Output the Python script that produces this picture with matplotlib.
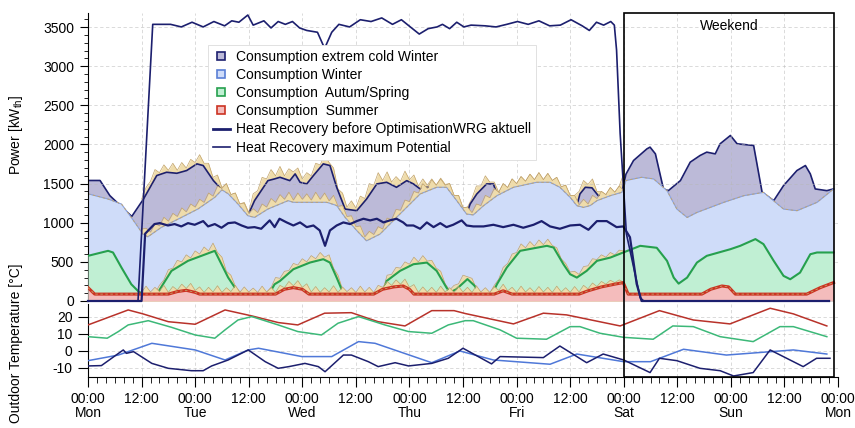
import numpy as np
import matplotlib
matplotlib.use("Agg")
import matplotlib.pyplot as plt
from matplotlib.lines import Line2D
from matplotlib.patches import Rectangle

plt.rcParams['font.family'] = ['Liberation Sans', 'DejaVu Sans']
plt.rcParams['font.size'] = 10
plt.rcParams['mathtext.fontset'] = 'custom'
plt.rcParams['mathtext.rm'] = 'Liberation Sans'
plt.rcParams['axes.unicode_minus'] = False

# ---- consumption curves, (hour of week, kW) ----
EXTREME = [(0, 1540), (2.7, 1540), (4.9, 1346), (9.8, 1080), (12.4, 1300), (15.4, 1603),
           (17.6, 1645), (19.9, 1632), (22.1, 1667), (24.4, 1752), (25.8, 1731), (28.1, 1538),
           (30, 1420), (31.4, 1370), (33.6, 1239), (35.8, 1090), (37.3, 1282), (40.3, 1538),
           (41.8, 1560), (43, 1581), (45.2, 1538), (46.4, 1624), (47.5, 1517), (49, 1496),
           (50.5, 1603), (52.7, 1752), (54.2, 1731), (55.7, 1453), (57.6, 1175), (60.2, 1154),
           (62.4, 1303), (64.7, 1496), (66.9, 1517), (69.1, 1453), (71.4, 1538), (72.9, 1496),
           (74.4, 1432), (75.9, 1453), (78.1, 1453), (80.3, 1453), (82.6, 1282), (84.8, 1111),
           (85.6, 1239), (87.1, 1368), (89.3, 1496), (90.8, 1496), (91.6, 1368), (95.3, 1453),
           (100.5, 1517), (103.5, 1517), (105.7, 1453), (108, 1325), (109.5, 1218), (110.2, 1368),
           (111.4, 1453), (112.9, 1446), (114.3, 1346), (117, 1346), (119.6, 1389), (120.5, 1620),
           (122.2, 1795), (125.2, 1944), (125.9, 1966), (127.1, 1880), (128.9, 1432), (130, 1410),
           (132.7, 1538), (134.9, 1774), (137.1, 1859), (138.6, 1902), (140.5, 1880), (141.6, 2009),
           (143.9, 2115), (145.4, 2009), (149.1, 1987), (151, 1389), (153.6, 1282), (155.8, 1474),
           (158.8, 1667), (160.7, 1731), (161.8, 1624), (162.9, 1432), (165.5, 1410), (167, 1432)]

WINTER = [(0, 1370), (4.5, 1303), (7.5, 1239), (9.7, 1068), (12.3, 855), (13.4, 820),
          (16.4, 940), (20.2, 1047), (24.6, 1175), (28.4, 1325), (30, 1420), (31.4, 1370),
          (33.6, 1239), (35.8, 1090), (37.3, 1068), (40.3, 1175), (44.8, 1282), (46, 1261),
          (53.5, 1261), (55.7, 1220), (57.6, 1068), (60.2, 900), (62.4, 769), (65.4, 855),
          (69.1, 1068), (74.4, 1368), (78.1, 1453), (80.3, 1453), (82.6, 1282), (84.8, 1111),
          (86.3, 1100), (88.6, 1218), (91.6, 1346), (95.3, 1453), (100.5, 1517), (103.5, 1517),
          (105.7, 1453), (108, 1325), (109.5, 1218), (111, 1196), (112.5, 1220), (114, 1282),
          (117, 1346), (119.6, 1389), (120.5, 1540), (124, 1581), (126.7, 1560), (129.7, 1410),
          (131.9, 1175), (134.2, 1068), (136.4, 1132), (142.4, 1261), (146.9, 1346), (151.3, 1389),
          (155.8, 1175), (158.8, 1154), (163.3, 1261), (167, 1432)]

AUTUMN = [(0, 577), (4.5, 641), (5.6, 620), (7.5, 427), (9.7, 214), (11.2, 128), (12.3, 85),
          (15.5, 85), (16.1, 150), (18.7, 385), (22.4, 513), (25.4, 577), (28.4, 641), (29.9, 470),
          (31.4, 299), (32.9, 171), (34, 85), (40.5, 85), (41.8, 214), (43, 256), (46, 406),
          (49.7, 491), (52.7, 534), (54.2, 491), (55.7, 299), (56.8, 150), (57.5, 85), (66, 85),
          (66.9, 256), (69.9, 385), (72.9, 470), (75.9, 491), (78.1, 385), (80.3, 171), (81.1, 110),
          (82.5, 150), (85, 280), (86.5, 200), (88, 85), (90.5, 85), (91.6, 214), (93.8, 427),
          (96.8, 641), (102.8, 705), (104.3, 683), (106.5, 470), (108, 342), (109.5, 299),
          (111.7, 385), (114, 513), (117, 555), (119.9, 620), (123.7, 705), (127.4, 680),
          (129.7, 513), (131.2, 299), (132.3, 222), (134.2, 299), (136.4, 491), (138.6, 577),
          (143.9, 662), (146.1, 705), (149.5, 791), (151.3, 727), (153.6, 513), (155.8, 321),
          (157.3, 278), (159.5, 363), (161.8, 598), (163.3, 620), (167, 620)]

SUMMER = [(0, 171), (1.5, 88), (18, 88), (20, 120), (22, 137), (24, 110), (25, 88), (42, 88),
          (44, 150), (46, 171), (48, 150), (49.5, 88), (64, 88), (66, 150), (68.5, 180),
          (70.6, 192), (72, 150), (73, 88), (91, 88), (93, 130), (95, 88), (110, 88), (112, 130),
          (115, 180), (118, 215), (119.9, 235), (121, 88), (137.5, 88), (139.5, 150), (142, 192),
          (143.5, 180), (145, 88), (161, 88), (164, 170), (167, 235)]

# hourly peaks of the fluctuating load above each curve, hours 12..120
tan_hours = np.arange(12, 121)
tan_extreme = [1300, 1450, 1530, 1680, 1640, 1740, 1670, 1760, 1670, 1770, 1700, 1810,
               1770, 1870, 1760, 1760, 1580, 1610, 1450, 1500, 1360, 1380, 1240, 1260,
               1130, 1370, 1410, 1580, 1560, 1680, 1600, 1720, 1600, 1690, 1650, 1700,
               1560, 1640, 1600, 1760, 1740, 1860, 1770, 1700, 1430, 1380, 1200, 1280,
               1190, 1340, 1310, 1500, 1480, 1640, 1540, 1650, 1520, 1590, 1530, 1660,
               1550, 1610, 1470, 1560, 1480, 1560, 1480, 1570, 1490, 1500, 1350, 1350,
               1190, 1200, 1310, 1470, 1470, 1600, 1520, 1520, 1390, 1500, 1450, 1560,
               1500, 1590, 1530, 1620, 1550, 1640, 1550, 1630, 1540, 1580, 1460, 1480,
               1350, 1350, 1400, 1540, 1490, 1560, 1400, 1400, 1360, 1450, 1390, 1470,
               1630]
tan_winter = [920, 930, 880, 990, 960, 1070, 1020, 1120, 1080, 1190, 1140, 1240,
              1200, 1300, 1260, 1380, 1340, 1470, 1440, 1500, 1360, 1380, 1240, 1250,
              1120, 1180, 1130, 1240, 1200, 1310, 1260, 1360, 1300, 1390, 1290, 1380,
              1300, 1370, 1290, 1390, 1300, 1380, 1280, 1350, 1210, 1220, 1080, 1090,
              950, 960, 820, 890, 850, 950, 920, 1060, 1040, 1170, 1160, 1290,
              1270, 1400, 1380, 1500, 1440, 1550, 1480, 1560, 1480, 1500, 1350, 1350,
              1190, 1200, 1130, 1240, 1220, 1350, 1320, 1440, 1390, 1500, 1450, 1560,
              1500, 1590, 1530, 1620, 1550, 1640, 1550, 1630, 1540, 1580, 1460, 1480,
              1350, 1350, 1230, 1300, 1240, 1350, 1310, 1400, 1360, 1450, 1390, 1470,
              1410]
tan_autumn = [120, 100, 100, 100, 200, 270, 400, 420, 520, 500, 590, 550,
              640, 600, 690, 640, 740, 620, 560, 380, 330, 190, 120, 100,
              100, 100, 100, 100, 100, 170, 300, 290, 380, 390, 480, 460,
              540, 500, 580, 540, 620, 560, 590, 420, 330, 150, 100, 100,
              100, 100, 100, 100, 100, 100, 130, 330, 340, 430, 420, 500,
              470, 560, 500, 580, 510, 520, 420, 380, 220, 140, 200, 220,
              330, 310, 290, 160, 110, 100, 100, 200, 280, 430, 480, 600,
              620, 730, 680, 760, 700, 780, 720, 790, 710, 680, 540, 480,
              370, 380, 340, 440, 450, 540, 530, 590, 560, 620, 590, 650,
              640]
tan_summer = [110, 190, 115, 175, 120, 200, 110, 185, 140, 215, 160, 225,
              135, 180, 110, 175, 115, 195, 110, 170, 120, 200, 110, 180,
              115, 165, 110, 190, 115, 175, 110, 200, 170, 250, 195, 260,
              175, 220, 115, 185, 110, 170, 115, 195, 110, 180, 120, 170,
              110, 190, 115, 175, 110, 200, 175, 250, 200, 270, 215, 280,
              175, 210, 110, 180, 115, 175, 110, 190, 115, 170, 110, 185,
              115, 175, 110, 195, 115, 170, 110, 185, 135, 215, 130, 175,
              110, 190, 115, 170, 110, 185, 115, 175, 110, 190, 115, 170,
              110, 185, 115, 200, 155, 230, 185, 250, 215, 265, 235, 270,
              240]

# ---- heat recovery ----
HR_BEFORE = [(0, 0), (12.0, 0), (12.8, 860), (14.9, 983), (16.1, 995), (17.9, 965), (19.4, 983),
             (20.9, 953), (22.4, 995), (23.9, 974), (25.8, 1021), (26.9, 953), (28.4, 983),
             (29.9, 936), (31.4, 995), (32.9, 1004), (34.4, 965), (35.8, 936), (37.3, 944),
             (38.8, 923), (40.7, 1030), (41.8, 944), (42.9, 1051), (44.5, 1004), (46, 965),
             (47.5, 1004), (49, 944), (50.5, 965), (51.9, 902), (53.1, 705), (54.2, 902),
             (55.7, 965), (57.2, 1004), (58.7, 983), (60.2, 1021), (61.7, 1051), (63.2, 1030),
             (64.7, 1051), (66.2, 1004), (67.6, 1030), (69.1, 1051), (70.6, 1004), (71.4, 965),
             (72.9, 965), (74.4, 923), (75.9, 1004), (77.4, 944), (78.9, 995), (80.3, 944),
             (81.8, 974), (83.7, 1030), (84.8, 965), (86.3, 953), (88.6, 953), (90.8, 974),
             (93, 944), (95.3, 974), (97.5, 936), (99.8, 974), (101.6, 1021), (103.5, 953),
             (105.7, 923), (108, 965), (110.2, 974), (112.1, 910), (114, 1021), (116.2, 1021),
             (118.4, 944), (119.9, 953), (121.4, 815), (122.9, 218), (124, 0), (166, 0)]
HR_MAX = [(0, 0), (11.2, 0), (14.5, 3535), (18.5, 3535), (20.9, 3502), (23.3, 3562), (25.8, 3502),
          (28.2, 3571), (30.6, 3516), (32.2, 3580), (33.8, 3562), (35.8, 3654), (37, 3525),
          (39.4, 3580), (41, 3489), (42.6, 3571), (44.2, 3535), (45.8, 3571), (47.4, 3489),
          (49, 3457), (51.4, 3434), (53, 3228), (54.6, 3434), (56.2, 3535), (58.6, 3502),
          (61, 3594), (63.4, 3571), (65.8, 3617), (68.2, 3535), (70.2, 3594), (72.2, 3502),
          (74.2, 3411), (76.2, 3480), (78.2, 3502), (79.4, 3535), (81, 3480), (82.6, 3562),
          (84.2, 3502), (85.8, 3525), (89, 3516), (91.4, 3502), (93.8, 3535), (96.2, 3571),
          (98.6, 3535), (101, 3580), (103.4, 3516), (105.8, 3525), (108.2, 3594), (110.7, 3516),
          (112.3, 3457), (113.9, 3562), (115.5, 3525), (117.1, 3571), (117.9, 3525),
          (118.4, 3205), (119.2, 2140), (120.6, 860), (123.7, 40), (124.5, 0), (166, 0)]

# ---- outdoor temperature (°C) ----
T_SUMMER = [(0, 15.3), (9, 24.1), (12.3, 21.8), (18, 17.2), (24, 15.7), (30.7, 24.1), (36.7, 20.6),
            (42.6, 16.7), (47, 15.3), (53, 22.2), (59, 22.5), (65, 17.2), (71, 14.7), (77, 23.7),
            (82, 23.7), (84.5, 22), (95.3, 15.9), (102, 22.2), (107.2, 21.2), (119.2, 14.7),
            (128, 23.7), (135.6, 18.2), (143.8, 15.9), (152.8, 25.1), (158, 21.8), (165.5, 14.7)]
T_AUTUMN = [(0, 8.4), (4.3, 7.5), (6.8, 11.4), (9, 15.3), (13.5, 17.8), (18.7, 13.9), (24, 9.4),
            (28.4, 7.5), (30.7, 12.4), (33.6, 18.2), (36.7, 20.2), (42.6, 15.3), (47, 11.4),
            (52.3, 9.4), (56, 16.3), (60.6, 20.2), (66.5, 15.3), (71.8, 11.4), (77, 10.4),
            (80.7, 15.3), (84.5, 17.8), (86.3, 17.8), (92.3, 12.4), (96, 7.5), (102.7, 6.9),
            (108, 14.3), (110.2, 14.3), (114.7, 10.4), (120, 8), (126.6, 6.9), (131, 14.7),
            (135.6, 14.3), (141.6, 8.4), (149, 5.5), (155, 14.3), (158, 14.3), (165.5, 8.4)]
T_WINTER = [(0, -5.7), (6.8, -2.4), (14.3, 4.5), (24, 0.6), (30.7, -5.3), (35.9, 0.6), (38.2, 1.6),
            (47.9, -3.3), (54.6, -3.3), (60.6, 5.5), (64.3, 4.5), (77, -6.9), (83.3, 0),
            (90.8, -5.3), (103.5, -7.8), (109.5, -1.8), (120, -6.3), (126, -6.3), (133.4, 1.0),
            (143, -2.4), (158, 0.6), (165.5, -1.8)]
T_EXTREME = [(0, -8.8), (3, -8.6), (7.9, 0.6), (8.6, -1.4), (10.2, -0.4), (14.3, -7.3), (18, -10.2),
             (23.2, -11.6), (25.8, -11.6), (27.7, -8.8), (31.4, -5.3), (35.9, 0.6), (39.7, -6.3),
             (42.6, -10.2), (45, -9.2), (48.6, -7.3), (51.6, -9.2), (53.1, -12.2), (57.2, -2.4),
             (59, -2.4), (62.8, -6.3), (65, -9.2), (68.8, -6.9), (71.8, -8.8), (77, -7.3),
             (80.7, -4.3), (84, 1.6), (90.4, -7.6), (92.3, -3.3), (102, -3.9), (105.7, 2.9),
             (111.7, -6.9), (115.4, -1.8), (120, -5.3), (125.9, -12.7), (128, -4.3), (131.9, -5.7),
             (137.1, -10.2), (141.6, -11.6), (144.6, -14.7), (149, -12.7), (152.8, 0.6),
             (156.5, -4.3), (160.2, -9.2), (163.2, -4.3), (166.2, -4.3)]

DAYS = ['Mon', 'Tue', 'Wed', 'Thu', 'Fri', 'Sat', 'Sun', 'Mon']
LEGEND_LABELS = ['Consumption extrem cold Winter', 'Consumption Winter',
                 'Consumption  Autum/Spring', 'Consumption  Summer',
                 'Heat Recovery before OptimisationWRG aktuell',
                 'Heat Recovery maximum Potential']

NAVY = '#1c1f6e'
TAN, TAN_EDGE = '#efdcab', '#c2a36a'
C_EXT, C_WIN, C_AUT, C_SUM = '#bcbad8', '#cfdcf9', '#c0efd3', '#f4bcbc'


def xy(pairs):
    a = np.array(pairs, dtype=float)
    return a[:, 0], a[:, 1]


W, H = 855, 428
fig = plt.figure(figsize=(W / 100, H / 100), dpi=100)
L, R = 88 / W, 838 / W
ax = fig.add_axes([L, 1 - 301 / H, R - L, (301 - 13) / H])
axt = fig.add_axes([L, 1 - 377 / H, R - L, (377 - 304) / H])

# consumption layers, drawn from the top layer down so each one covers the next
layers = [
    (EXTREME, tan_extreme, C_EXT, NAVY, 1.2, False),
    (WINTER, tan_winter, C_WIN, '#8aa2dc', 0.8, True),
    (AUTUMN, tan_autumn, C_AUT, '#26a04e', 1.5, False),
    (SUMMER, tan_summer, C_SUM, '#cc3322', 2.2, True),
]
z = 1
for pts, tan, fc, lc, lw, dashed in layers:
    ax.fill_between(tan_hours, 0, tan, color=TAN, lw=0, zorder=z)
    ax.plot(tan_hours, tan, color=TAN_EDGE, lw=0.5, zorder=z + 0.1)
    h, v = xy(pts)
    ax.fill_between(h, 0, v, color=fc, lw=0, zorder=z + 0.2)
    ax.plot(h, v, color=lc, lw=lw, zorder=z + 0.3)
    if dashed:
        ax.plot(h, v, color=TAN_EDGE, lw=0.6, ls=(0, (3, 3)), zorder=z + 0.4)
    z += 1

h, v = xy(HR_BEFORE)
ax.plot(h, v, color=NAVY, lw=1.6, zorder=20, clip_on=False)
h, v = xy(HR_MAX)
ax.plot(h, v, color=NAVY, lw=1.2, zorder=20, clip_on=False)

ax.set_xlim(0, 168)
ax.set_ylim(0, 3680)
ax.set_yticks(np.arange(0, 3501, 500))
ax.set_yticks(np.arange(0, 3601, 100), minor=True)
ax.set_xticks(np.arange(0, 169, 12))
ax.tick_params(axis='x', bottom=False, labelbottom=False)
ax.tick_params(axis='y', which='major', length=6, width=0.8, pad=4)
ax.tick_params(axis='y', which='minor', length=3, width=0.6)
ax.grid(True, which='major', color='#b8b8b8', lw=0.6, ls=(0, (4, 3)), alpha=0.6, zorder=15)
for s in ('top', 'right', 'bottom'):
    ax.spines[s].set_visible(False)
ax.spines['left'].set_linewidth(0.8)

# temperature panel
for pts, c in [(T_SUMMER, '#b8322a'), (T_AUTUMN, '#3cb878'),
               (T_WINTER, '#4f78d8'), (T_EXTREME, NAVY)]:
    h, v = xy(pts)
    axt.plot(h, v, color=c, lw=1.1, zorder=3)
axt.set_xlim(0, 168)
axt.set_ylim(-15.3, 27.6)
axt.set_yticks([-10, 0, 10, 20])
axt.set_xticks(np.arange(0, 169, 12))
axt.set_xticks(np.arange(0, 169, 2), minor=True)
axt.set_xticklabels([f'00:00\n{DAYS[i // 2]}' if i % 2 == 0 else '12:00' for i in range(15)],
                    linespacing=0.95)
axt.tick_params(axis='both', which='major', length=7, width=0.8, pad=4)
axt.tick_params(axis='x', which='minor', length=4, width=0.6)
axt.grid(True, which='major', color='#b8b8b8', lw=0.6, ls=(0, (4, 3)), alpha=0.6, zorder=1)
for s in ('top', 'right'):
    axt.spines[s].set_visible(False)
axt.spines['left'].set_linewidth(0.8)
axt.spines['bottom'].set_linewidth(0.8)

# legend
handles = [
    Line2D([], [], ls='none', marker='s', ms=6, mfc=C_EXT, mec=NAVY, mew=1.2),
    Line2D([], [], ls='none', marker='s', ms=6, mfc=C_WIN, mec='#5a7fd6', mew=1.2),
    Line2D([], [], ls='none', marker='s', ms=6, mfc=C_AUT, mec='#26a04e', mew=1.2),
    Line2D([], [], ls='none', marker='s', ms=6, mfc=C_SUM, mec='#cc3322', mew=1.2),
    Line2D([], [], color=NAVY, lw=2.0),
    Line2D([], [], color=NAVY, lw=1.2),
]
leg = ax.legend(handles, LEGEND_LABELS, loc='upper left', bbox_to_anchor=(0.16, 0.889),
                frameon=True, fancybox=False, edgecolor='#dcdcdc', framealpha=1,
                handlelength=1.2, handletextpad=0.5, labelspacing=0.3, borderpad=0.35,
                borderaxespad=0, fontsize=10)
leg.get_frame().set_linewidth(0.6)
leg.set_zorder(30)

# weekend box spanning both panels
x0 = L + 120 / 168 * (R - L)
x1 = L + 167.1 / 168 * (R - L)
fig.add_artist(Rectangle((x0, 1 - 377 / H), x1 - x0, (377 - 13) / H, transform=fig.transFigure,
                         fill=False, ec='black', lw=1.2, zorder=40))
fig.text((x0 + x1) / 2, 1 - 26 / H, 'Weekend', ha='center', va='center', fontsize=10)

fig.text(16 / W, 1 - 135 / H, r'Power [kW$_{\mathrm{th}}$]', rotation=90, ha='center', va='center')
fig.text(16 / W, 1 - 343 / H, 'Outdoor Temperature [°C]', rotation=90, ha='center', va='center')

fig.savefig('out.png', dpi=100)
